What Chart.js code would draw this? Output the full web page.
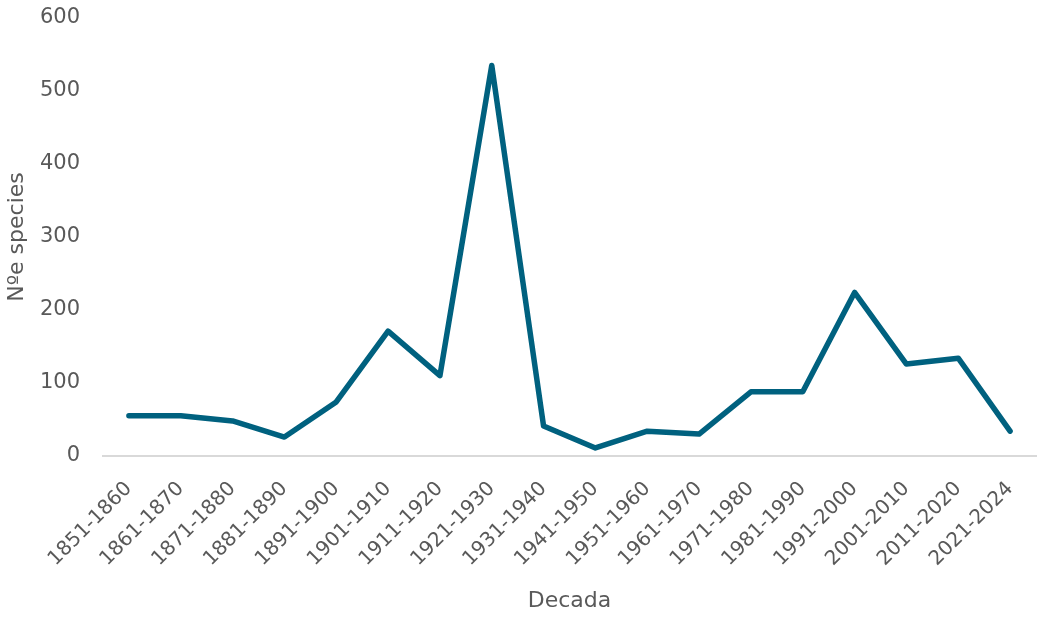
<!DOCTYPE html>
<html lang="es">
<head>
    <meta charset="UTF-8">
    <title>Nºe species por decada</title>
    <script src="https://cdn.jsdelivr.net/npm/chart.js"></script>
    <style>
        body { margin: 0; background: #fff; }
        .chart-container { width: 1044px; height: 618px; }
    </style>
</head>
<body>
    <div class="chart-container">
        <canvas id="speciesChart" width="1044" height="618"></canvas>
    </div>

    <script>
        // Decadas (eje X)
        const decadas = ["1851-1860", "1861-1870", "1871-1880", "1881-1890", "1891-1900", "1901-1910",
            "1911-1920", "1921-1930", "1931-1940", "1941-1950", "1951-1960", "1961-1970",
            "1971-1980", "1981-1990", "1991-2000", "2001-2010", "2011-2020", "2021-2024"];
        // Nº de especies por decada
        const especies = [55, 55, 48, 26, 74, 171, 110, 535, 41, 11, 34, 30, 88, 88, 224, 126, 134, 34];
        const yTicks = [0, 100, 200, 300, 400, 500, 600];

        const fontFamily = "'DejaVu Sans', 'Liberation Sans', sans-serif";
        const grey = '#595959';

        const ctx = document.getElementById('speciesChart').getContext('2d');
        new Chart(ctx, {
            type: 'line',
            data: {
                labels: decadas,
                datasets: [{
                    label: 'Nºe species',
                    data: especies,
                    borderColor: '#00617f',
                    borderWidth: 5.5,
                    borderCapStyle: 'round',
                    borderJoinStyle: 'round',
                    pointRadius: 0,
                    tension: 0,
                    fill: false
                }]
            },
            options: {
                responsive: false,
                animation: false,
                layout: { padding: { top: 18, right: 8 } },
                plugins: { legend: { display: false }, tooltip: { enabled: false } },
                scales: {
                    x: {
                        offset: true,
                        grid: { display: false, drawTicks: false },
                        border: { display: true, color: '#d9d9d9', width: 2 },
                        ticks: {
                            color: grey,
                            font: { family: fontFamily, size: 20 },
                            minRotation: 45,
                            maxRotation: 45,
                            autoSkip: false,
                            padding: 21
                        },
                        title: {
                            display: true,
                            text: 'Decada',
                            color: grey,
                            font: { family: fontFamily, size: 22 },
                            padding: { top: 4, bottom: 4 }
                        },
                        afterFit: s => {
                            s.height = 162;
                            s.paddingLeft = 0;
                            s.paddingRight = 0;
                        }
                    },
                    y: {
                        min: 0,
                        max: 600,
                        afterBuildTicks: s => { s.ticks = yTicks.map(v => ({ value: v })); },
                        grid: { display: false, drawTicks: false },
                        border: { display: false },
                        ticks: {
                            color: grey,
                            font: { family: fontFamily, size: 21 },
                            padding: 23
                        },
                        title: {
                            display: true,
                            text: 'Nºe species',
                            color: grey,
                            font: { family: fontFamily, size: 22 },
                            padding: { top: 4, bottom: 4 }
                        },
                        afterFit: s => {
                            s.width = 103;
                            s.paddingTop = 0;
                            s.paddingBottom = 0;
                        }
                    }
                }
            }
        });
    </script>
</body>
</html>
